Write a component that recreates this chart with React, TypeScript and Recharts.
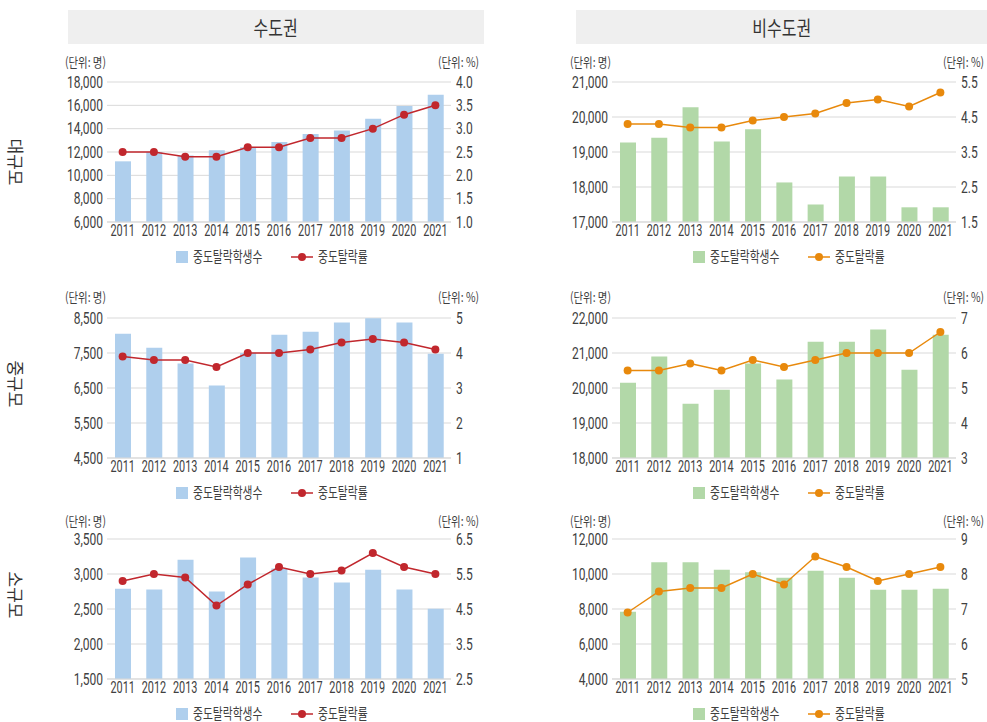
import React from 'react';
import { ComposedChart, Bar, Line, XAxis, YAxis, CartesianGrid, Legend } from 'recharts';

const years = ['2011', '2012', '2013', '2014', '2015', '2016', '2017', '2018', '2019', '2020', '2021'];

// 수도권
const capLargeCount = [11200, 12000, 11700, 12150, 12400, 12850, 13550, 13850, 14850, 15950, 16900];
const capLargeRate = [2.5, 2.5, 2.4, 2.4, 2.6, 2.6, 2.8, 2.8, 3.0, 3.3, 3.5];
const capMidCount = [8050, 7650, 7200, 6570, 7500, 8020, 8110, 8370, 8490, 8370, 7480];
const capMidRate = [3.9, 3.8, 3.8, 3.6, 4.0, 4.0, 4.1, 4.3, 4.4, 4.3, 4.1];
const capSmallCount = [2790, 2780, 3205, 2750, 3235, 3080, 2950, 2880, 3060, 2780, 2505];
const capSmallRate = [5.3, 5.5, 5.4, 4.6, 5.2, 5.7, 5.5, 5.6, 6.1, 5.7, 5.5];

// 비수도권
const nonLargeCount = [19270, 19410, 20280, 19300, 19650, 18130, 17500, 18300, 18300, 17420, 17420];
const nonLargeRate = [4.3, 4.3, 4.2, 4.2, 4.4, 4.5, 4.6, 4.9, 5.0, 4.8, 5.2];
const nonMidCount = [20150, 20900, 19550, 19950, 20700, 20240, 21320, 21320, 21670, 20520, 21520];
const nonMidRate = [5.5, 5.5, 5.7, 5.5, 5.8, 5.6, 5.8, 6.0, 6.0, 6.0, 6.6];
const nonSmallCount = [7850, 10670, 10670, 10250, 10100, 9790, 10190, 9790, 9100, 9100, 9160];
const nonSmallRate = [6.9, 7.5, 7.6, 7.6, 8.0, 7.7, 8.5, 8.2, 7.8, 8.0, 8.2];

// axis ticks
const capLargeCountTicks = [6000, 8000, 10000, 12000, 14000, 16000, 18000];
const capLargeRateTicks = [1.0, 1.5, 2.0, 2.5, 3.0, 3.5, 4.0];
const capMidCountTicks = [4500, 5500, 6500, 7500, 8500];
const capMidRateTicks = [1, 2, 3, 4, 5];
const capSmallCountTicks = [1500, 2000, 2500, 3000, 3500];
const capSmallRateTicks = [2.5, 3.5, 4.5, 5.5, 6.5];
const nonLargeCountTicks = [17000, 18000, 19000, 20000, 21000];
const nonLargeRateTicks = [1.5, 2.5, 3.5, 4.5, 5.5];
const nonMidCountTicks = [18000, 19000, 20000, 21000, 22000];
const nonMidRateTicks = [3, 4, 5, 6, 7];
const nonSmallCountTicks = [4000, 6000, 8000, 10000, 12000];
const nonSmallRateTicks = [5, 6, 7, 8, 9];

const regions = ['수도권', '비수도권'];
const sizes = ['대규모', '중규모', '소규모'];
const seriesNames = ['중도탈락학생수', '중도탈락률'];

const BLUE = '#afcfed';
const RED = '#c1272d';
const GREEN = '#b2d8a8';
const ORANGE = '#e8890c';
const GRID = '#d9d9d9';
const TEXT = '#404040';
const KR = "'Noto Sans CJK KR', 'Noto Sans', sans-serif";
const NUM = 'Roboto, sans-serif';

const AXIS_L = 50;
const AXIS_R = 40;
const PLOT_W = 344;
const PLOT_H = 140;
const MT = 10;
const XH = 20;
const LEG_H = 30;

const XTick = (props: any) => {
  const { x, y, payload } = props;
  return (
    <g transform={`translate(${x},${y})`}>
      <text transform="scale(0.68,1)" textAnchor="middle" dy="0.71em" fontSize={16} fill={TEXT} fontFamily={NUM}>
        {payload.value}
      </text>
    </g>
  );
};

const makeYTick = (anchor: 'start' | 'end', fmt: (v: number) => string) => (props: any) => {
  const { x, y, payload } = props;
  return (
    <g transform={`translate(${x},${y})`}>
      <text transform="scale(0.75,1)" textAnchor={anchor} dy="0.36em" fontSize={16} fill={TEXT} fontFamily={NUM}>
        {fmt(payload.value)}
      </text>
    </g>
  );
};

const fmtCount = (v: number) => v.toLocaleString('en-US');

function Panel(props: {
  left: number;
  top: number;
  counts: number[];
  rates: number[];
  countTicks: number[];
  rateTicks: number[];
  digits: number;
  barColor: string;
  lineColor: string;
  legendX: number;
}) {
  const { left, top, counts, rates, countTicks, rateTicks, digits, barColor, lineColor, legendX } = props;
  const data = years.map((year, i) => ({ year, count: counts[i], rate: rates[i] }));
  const width = AXIS_L + PLOT_W + AXIS_R;
  const height = MT + PLOT_H + XH + LEG_H;

  const renderLegend = () => {
    const sx = AXIS_L + legendX;
    return (
      <svg width={width} height={LEG_H} style={{ display: 'block' }}>
        <rect x={sx} y={9} width={12} height={12} fill={barColor} />
        <g transform={`translate(${sx + 17},20)`}>
          <text transform="scale(0.72,1)" fontSize={15} fill={TEXT} fontFamily={KR}>{seriesNames[0]}</text>
        </g>
        <line x1={sx + 115} x2={sx + 137} y1={15} y2={15} stroke={lineColor} strokeWidth={1.5} />
        <circle cx={sx + 126} cy={15} r={4} fill={lineColor} />
        <g transform={`translate(${sx + 142},20)`}>
          <text transform="scale(0.72,1)" fontSize={15} fill={TEXT} fontFamily={KR}>{seriesNames[1]}</text>
        </g>
      </svg>
    );
  };

  return (
    <div style={{ position: 'absolute', left: left - AXIS_L, top: top - MT }}>
      <ComposedChart width={width} height={height} data={data} margin={{ top: MT, right: 0, bottom: 0, left: 0 }}>
        <CartesianGrid yAxisId="count" vertical={false} stroke={GRID} />
        <XAxis
          dataKey="year"
          height={XH}
          tickSize={0}
          tickMargin={3}
          tick={<XTick />}
          axisLine={{ stroke: GRID }}
          tickLine={false}
          interval={0}
        />
        <YAxis
          yAxisId="count"
          orientation="left"
          width={AXIS_L}
          domain={[countTicks[0], countTicks[countTicks.length - 1]]}
          ticks={countTicks}
          tickSize={0}
          tickMargin={4}
          axisLine={false}
          tickLine={false}
          tick={makeYTick('end', fmtCount)}
          interval={0}
        />
        <YAxis
          yAxisId="rate"
          orientation="right"
          width={AXIS_R}
          domain={[rateTicks[0], rateTicks[rateTicks.length - 1]]}
          ticks={rateTicks}
          tickSize={0}
          tickMargin={5}
          axisLine={false}
          tickLine={false}
          tick={makeYTick('start', (v: number) => v.toFixed(digits))}
          interval={0}
        />
        <Legend verticalAlign="bottom" height={LEG_H} content={renderLegend} />
        <Bar yAxisId="count" dataKey="count" name={seriesNames[0]} fill={barColor} barSize={16} isAnimationActive={false} />
        <Line
          yAxisId="rate"
          dataKey="rate"
          name={seriesNames[1]}
          stroke={lineColor}
          strokeWidth={1.5}
          dot={{ r: 4, fill: lineColor, stroke: lineColor, strokeWidth: 0 }}
          activeDot={false}
          isAnimationActive={false}
        />
      </ComposedChart>
    </div>
  );
}

const unitStyle = (extra: React.CSSProperties): React.CSSProperties => ({
  position: 'absolute',
  fontFamily: KR,
  fontSize: 13,
  color: TEXT,
  whiteSpace: 'nowrap',
  lineHeight: '16px',
  ...extra,
});

function Units({ plotLeft, top }: { plotLeft: number; top: number }) {
  return (
    <>
      <div style={unitStyle({ left: plotLeft - 42, top: top - 8, transform: 'scaleX(0.8)', transformOrigin: 'left center' })}>
        (단위: 명)
      </div>
      <div style={unitStyle({ left: plotLeft + PLOT_W + 28 - 100, width: 100, textAlign: 'right', top: top - 8, transform: 'scaleX(0.8)', transformOrigin: 'right center' })}>
        (단위: %)
      </div>
    </>
  );
}

export default function App() {
  const col1 = 107;
  const col2 = 612;
  const rows = [82, 318, 539];
  const unitY = [62, 297, 521];
  const labelY = [162, 384, 595];

  return (
    <div style={{ position: 'absolute', left: 0, top: 0, width: 987, height: 722, background: '#fff', overflow: 'hidden' }}>
      {[{ l: 68, w: 416 }, { l: 576, w: 411 }].map((b, i) => (
        <div
          key={regions[i]}
          style={{
            position: 'absolute',
            left: b.l,
            top: 10,
            width: b.w,
            height: 34,
            background: '#efefef',
            display: 'flex',
            alignItems: 'center',
            justifyContent: 'center',
            fontFamily: KR,
            fontSize: 20,
            color: '#333',
          }}
        >
          <span style={{ display: 'inline-block', transform: 'scaleX(0.8)' }}>{regions[i]}</span>
        </div>
      ))}

      {sizes.map((s, i) => (
        <div
          key={s}
          style={{
            position: 'absolute',
            left: 16,
            top: labelY[i],
            transform: 'translate(-50%,-50%) rotate(90deg)',
            fontFamily: KR,
            fontSize: 17,
            color: '#333',
            whiteSpace: 'nowrap',
            lineHeight: '18px',
          }}
        >
          {s}
        </div>
      ))}

      {rows.map((r, i) => (
        <React.Fragment key={r}>
          <Units plotLeft={col1} top={unitY[i]} />
          <Units plotLeft={col2} top={unitY[i]} />
        </React.Fragment>
      ))}

      <Panel left={col1} top={rows[0]} counts={capLargeCount} rates={capLargeRate} countTicks={capLargeCountTicks} rateTicks={capLargeRateTicks} digits={1} barColor={BLUE} lineColor={RED} legendX={69} />
      <Panel left={col2} top={rows[0]} counts={nonLargeCount} rates={nonLargeRate} countTicks={nonLargeCountTicks} rateTicks={nonLargeRateTicks} digits={1} barColor={GREEN} lineColor={ORANGE} legendX={81} />
      <Panel left={col1} top={rows[1]} counts={capMidCount} rates={capMidRate} countTicks={capMidCountTicks} rateTicks={capMidRateTicks} digits={0} barColor={BLUE} lineColor={RED} legendX={69} />
      <Panel left={col2} top={rows[1]} counts={nonMidCount} rates={nonMidRate} countTicks={nonMidCountTicks} rateTicks={nonMidRateTicks} digits={0} barColor={GREEN} lineColor={ORANGE} legendX={81} />
      <Panel left={col1} top={rows[2]} counts={capSmallCount} rates={capSmallRate} countTicks={capSmallCountTicks} rateTicks={capSmallRateTicks} digits={1} barColor={BLUE} lineColor={RED} legendX={69} />
      <Panel left={col2} top={rows[2]} counts={nonSmallCount} rates={nonSmallRate} countTicks={nonSmallCountTicks} rateTicks={nonSmallRateTicks} digits={0} barColor={GREEN} lineColor={ORANGE} legendX={81} />
    </div>
  );
}
